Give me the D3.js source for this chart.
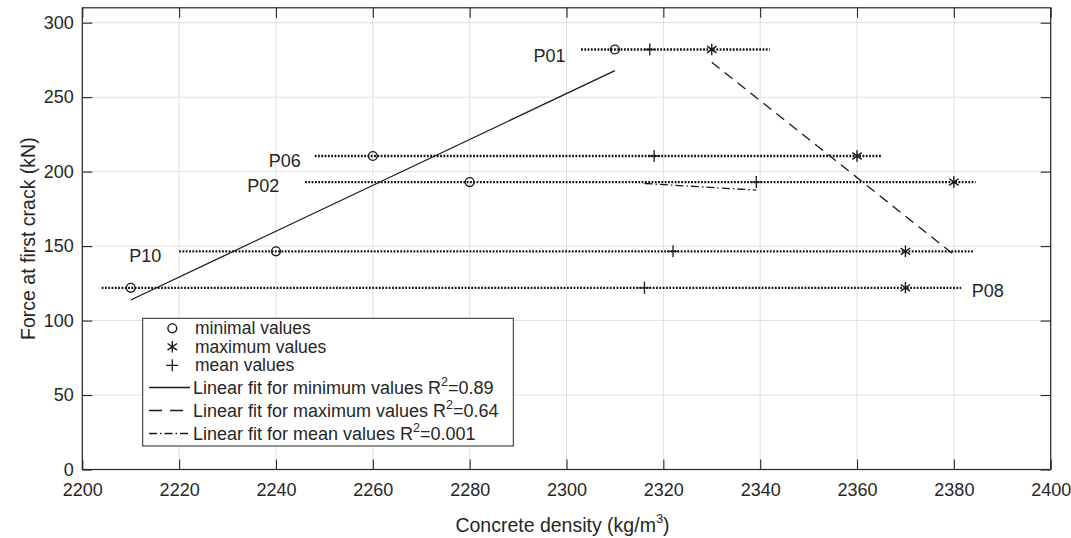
<!DOCTYPE html>
<html>
<head>
<meta charset="utf-8">
<script src="https://cdn.jsdelivr.net/npm/d3@7/dist/d3.min.js"></script>
<style>
  html, body { margin: 0; padding: 0; background: #fff; }
  svg { display: block; }
  text { font-family: "Liberation Sans", Arial, Helvetica, sans-serif; fill: #262626; }
</style>
</head>
<body>
<svg id="chart" width="1071" height="538"></svg>
<script>
// ---------------- data ----------------
const samples     = ["P01", "P06", "P02", "P10", "P08"];
const force       = [282, 210.5, 193, 146.5, 122];          // kN
const minDensity  = [2310, 2260, 2280, 2240, 2210];         // kg/m3
const maxDensity  = [2330, 2360, 2380, 2370, 2370];
const meanDensity = [2317.2, 2318.1, 2339.2, 2322, 2316.1];
const rangeStart  = [2303, 2248, 2246, 2220, 2204];
const rangeEnd    = [2342, 2365, 2384.5, 2384, 2381.5];
const labelX      = [2299.8, 2245.1, 2240.7, 2216.3, 2383.7];
const labelY      = [273.8, 203.3, 186.5, 139.5, 116];
const labelAnchor = ["end", "end", "end", "end", "start"];
const xTicks      = [2200, 2220, 2240, 2260, 2280, 2300, 2320, 2340, 2360, 2380, 2400];
const yTicks      = [0, 50, 100, 150, 200, 250, 300];
const xDomain     = [2200, 2400];
const yDomain     = [0, 310];
const r2Labels    = ["0.89", "0.64", "0.001"];

// ---------------- layout ----------------
const svg = d3.select("#chart");
const L = 82.3, R = 1050.7, T = 7.8, B = 469.5;
const x = d3.scaleLinear().domain(xDomain).range([L, R]);
const y = d3.scaleLinear().domain(yDomain).range([B, T]);
const FS = 18;
const LFS = 17.5;
const TFS = 19.5;
const ink = "#262626";

// grid
const grid = svg.append("g");
grid.selectAll("line.v").data(xTicks).join("line")
  .attr("x1", d => x(d)).attr("x2", d => x(d)).attr("y1", T).attr("y2", B)
  .attr("stroke", "#e0e0e0").attr("stroke-width", 1);
grid.selectAll("line.h").data(yTicks).join("line")
  .attr("x1", L).attr("x2", R).attr("y1", d => y(d)).attr("y2", d => y(d))
  .attr("stroke", "#e0e0e0").attr("stroke-width", 1);

// axes (ticks inward, mirrored)
const tickLen = 10;
const xAxisB = d3.axisBottom(x).tickValues(xTicks).tickSizeInner(-tickLen).tickSizeOuter(0).tickPadding(13.5).tickFormat(d3.format("d"));
const xAxisT = d3.axisTop(x).tickValues(xTicks).tickSizeInner(-tickLen).tickSizeOuter(0).tickFormat("");
const yAxisL = d3.axisLeft(y).tickValues(yTicks).tickSizeInner(-tickLen).tickSizeOuter(0).tickPadding(8.5).tickFormat(d3.format("d"));
const yAxisR = d3.axisRight(y).tickValues(yTicks).tickSizeInner(-tickLen).tickSizeOuter(0).tickFormat("");

function styleAxis(g) {
  g.select(".domain").remove();
  g.selectAll(".tick line").attr("stroke", ink).attr("stroke-width", 1.1);
  g.selectAll(".tick text").attr("fill", ink).style("font-size", FS + "px")
    .style("font-family", "'Liberation Sans', Arial, sans-serif");
}
svg.append("g").attr("transform", `translate(0,${B})`).call(xAxisB).call(styleAxis);
svg.append("g").attr("transform", `translate(0,${T})`).call(xAxisT).call(styleAxis);
svg.append("g").attr("transform", `translate(${L},0)`).call(yAxisL).call(styleAxis);
svg.append("g").attr("transform", `translate(${R},0)`).call(yAxisR).call(styleAxis);

// box
svg.append("rect").attr("x", L).attr("y", T).attr("width", R - L).attr("height", B - T)
  .attr("fill", "none").attr("stroke", ink).attr("stroke-width", 1.2);

// axis titles
const xt = svg.append("text").attr("x", 562.5).attr("y", 531.5)
  .attr("text-anchor", "middle").style("font-size", TFS + "px");
xt.append("tspan").text("Concrete density (kg/m");
xt.append("tspan").attr("dy", -9).style("font-size", "13px").text("3");
xt.append("tspan").attr("dy", 9).text(")");

svg.append("text").attr("transform", `translate(35,${(T + B) / 2}) rotate(-90)`)
  .attr("text-anchor", "middle").style("font-size", TFS + "px")
  .text("Force at first crack (kN)");

// ---------------- marks ----------------
const data = samples.map((s, i) => ({
  s, f: force[i], mn: minDensity[i], mx: maxDensity[i], me: meanDensity[i],
  a: rangeStart[i], b: rangeEnd[i], lx: labelX[i], ly: labelY[i], la: labelAnchor[i]
}));

const plot = svg.append("g");

// dotted range lines
plot.selectAll("line.range").data(data).join("line")
  .attr("x1", d => x(d.a)).attr("x2", d => x(d.b))
  .attr("y1", d => y(d.f)).attr("y2", d => y(d.f))
  .attr("stroke", "#111").attr("stroke-width", 2.3).attr("stroke-dasharray", "1.8,1.5");

// fits
function fit(xs, ys) {
  const n = xs.length, mx = d3.mean(xs), my = d3.mean(ys);
  let sxy = 0, sxx = 0;
  for (let i = 0; i < n; i++) { sxy += (xs[i] - mx) * (ys[i] - my); sxx += (xs[i] - mx) ** 2; }
  const k = sxy / sxx, c = my - k * mx;
  const x0 = d3.min(xs), x1 = d3.max(xs);
  return [[x0, k * x0 + c], [x1, k * x1 + c]];
}
const line = d3.line().x(d => x(d[0])).y(d => y(d[1]));
const fitStyles = [
  { dash: null }, { dash: "10,6.5" }, { dash: "8,3,1.5,3" }
];
const fits = [fit(minDensity, force), fit(maxDensity, force), fit(meanDensity, force)];
fits.forEach((f, i) => {
  plot.append("path").attr("d", line(f)).attr("fill", "none")
    .attr("stroke", "#1a1a1a").attr("stroke-width", 1.3)
    .attr("stroke-dasharray", fitStyles[i].dash);
});

// marker drawers
function circleM(g, cx, cy) {
  g.append("circle").attr("cx", cx).attr("cy", cy).attr("r", 4.4)
    .attr("fill", "none").attr("stroke", "#1a1a1a").attr("stroke-width", 1.4);
}
function plusM(g, cx, cy) {
  const s = 6;
  g.append("path").attr("d", `M${cx - s},${cy}H${cx + s}M${cx},${cy - s}V${cy + s}`)
    .attr("stroke", "#1a1a1a").attr("stroke-width", 1.3).attr("fill", "none");
}
function starM(g, cx, cy) {
  const s = 5.8;
  let d = `M${cx},${cy - s}V${cy + s}`;
  [35, -35].forEach(a => {
    const r = a * Math.PI / 180, dx = s * Math.cos(r), dy = s * Math.sin(r);
    d += `M${cx - dx},${cy - dy}L${cx + dx},${cy + dy}`;
  });
  g.append("path").attr("d", d).attr("stroke", "#1a1a1a").attr("stroke-width", 1.4).attr("fill", "none");
}

data.forEach(d => {
  circleM(plot, x(d.mn), y(d.f));
  starM(plot, x(d.mx), y(d.f));
  plusM(plot, x(d.me), y(d.f));
});

// sample labels
plot.selectAll("text.lbl").data(data).join("text")
  .attr("x", d => x(d.lx)).attr("y", d => y(d.ly))
  .attr("text-anchor", d => d.la).style("font-size", FS + "px")
  .text(d => d.s);

// ---------------- legend ----------------
const lg = svg.append("g");
lg.append("rect").attr("x", 142.7).attr("y", 318.3).attr("width", 370.6).attr("height", 127.7)
  .attr("fill", "#fff").attr("stroke", ink).attr("stroke-width", 1);
const rowsY = [328.3, 346.8, 365.3, 387.5, 410.5, 433.5];
const textX = 195, mkX = 172.3;
const legendTexts = ["minimal values", "maximum values", "mean values"];
circleM(lg, mkX, rowsY[0]);
starM(lg, mkX, rowsY[1]);
plusM(lg, mkX, rowsY[2]);
legendTexts.forEach((t, i) => {
  lg.append("text").attr("x", textX).attr("y", rowsY[i]).attr("dy", "0.35em")
    .style("font-size", LFS + "px").text(t);
});
const fitNames = ["Linear fit for minimum values R", "Linear fit for maximum values R", "Linear fit for mean values R"];
fitNames.forEach((t, i) => {
  const yy = rowsY[3 + i];
  lg.append("line").attr("x1", 149).attr("x2", 190).attr("y1", yy).attr("y2", yy)
    .attr("stroke", "#1a1a1a").attr("stroke-width", 1.3)
    .attr("stroke-dasharray", i === 1 ? "13,8" : i === 2 ? "8,3,1.5,3" : null);
  const tx = lg.append("text").attr("x", textX - 2).attr("y", yy).attr("dy", "0.35em").style("font-size", FS + "px");
  tx.append("tspan").text(t);
  tx.append("tspan").attr("dy", -8).style("font-size", "12.5px").text("2");
  tx.append("tspan").attr("dy", 8).text("=" + r2Labels[i]);
});
</script>
</body>
</html>
